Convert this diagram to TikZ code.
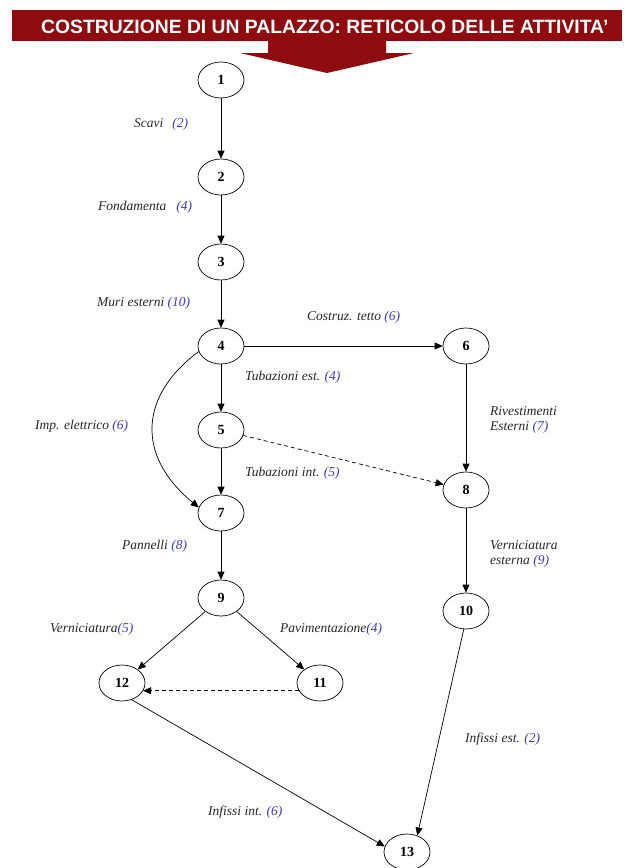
\documentclass[tikz,border=0pt]{standalone}
\usepackage{fontspec}
\setmainfont{Liberation Serif}
\newfontfamily\headfont{Liberation Sans}
\usetikzlibrary{arrows.meta, shapes.geometric}
\definecolor{headred}{HTML}{8E0B10}
\definecolor{durblue}{HTML}{3B3BB0}
\newcommand{\dur}[1]{\textcolor{durblue}{(#1)}}

\begin{document}
\begin{tikzpicture}[x=1pt, y=-1pt,
  ev/.style={draw, ellipse, line width=0.7pt, minimum width=46pt, minimum height=36pt,
    inner sep=0pt, font=\fontsize{14}{14}\selectfont\bfseries},
  act/.style={-{Triangle[length=8pt,width=7pt]}, line width=0.7pt},
  dummy/.style={act, dash pattern=on 4pt off 3pt},
  lbl/.style={anchor=west, inner sep=0pt, text=black!85, align=left,
    font=\fontsize{13.5}{15.5}\selectfont\itshape},
]
\useasboundingbox (0,0) rectangle (631,868);

% title banner and arrow
\fill[headred] (12,10) rectangle (622,41);
\fill[headred] (268,40) -- (386,40) -- (386,53) -- (414,53) -- (327,73)
  -- (240,53) -- (268,53) -- cycle;
\node[text=white, inner sep=0pt, anchor=base west,
  font=\headfont\bfseries\fontsize{19.3}{20}\selectfont] (title) at (41,33)
  {COSTRUZIONE DI UN PALAZZO: RETICOLO DELLE ATTIVITA’};

% events
\node[ev] (n1)  at (221,80)  {1};
\node[ev] (n2)  at (221,177) {2};
\node[ev] (n3)  at (221,262) {3};
\node[ev] (n4)  at (221,346) {4};
\node[ev] (n5)  at (221,430) {5};
\node[ev] (n6)  at (466,346) {6};
\node[ev] (n7)  at (221,513) {7};
\node[ev] (n8)  at (466,490) {8};
\node[ev] (n9)  at (221,598) {9};
\node[ev] (n10) at (466,611) {10};
\node[ev] (n11) at (320,683) {11};
\node[ev] (n12) at (122,683) {12};
\node[ev] (n13) at (407,852) {13};

% activities
\draw[act] (n1) -- (n2);
\draw[act] (n2) -- (n3);
\draw[act] (n3) -- (n4);
\draw[act] (n4) -- (n6);
\draw[act] (n4) -- (n5);
\draw[act] (n5) -- (n7);
\draw[act] (n4.194) .. controls (140,395) and (135,455) .. (n7.166);
\draw[dummy] (n5) -- (n8);
\draw[act] (n6) -- (n8);
\draw[act] (n8) -- (n10);
\draw[act] (n7) -- (n9);
\draw[act] (n9) -- (n12);
\draw[act] (n9) -- (n11);
\draw[dummy] (n11.200) -- (n12.-20);
\draw[act] (n12.-60) -- (n13.166);
\draw[act] (n10.-97) -- (n13.58);

% activity labels
\node[lbl] (l12)   at (134,124) {Scavi\hspace{9pt}\dur{2}};
\node[lbl] (l23)   at (98,207)  {Fondamenta\hspace{10pt}\dur{4}};
\node[lbl] (l34)   at (97,303)  {Muri esterni \dur{10}};
\node[lbl] (l46)   at (307,317) {Costruz. tetto \dur{6}};
\node[lbl] (l45)   at (245,377) {Tubazioni est. \dur{4}};
\node[lbl] (l47)   at (35,426)  {Imp. elettrico \dur{6}};
\node[lbl] (l58)   at (245,473) {Tubazioni int. \dur{5}};
\node[lbl] (l68)   at (490,420) {Rivestimenti\\Esterni \dur{7}};
\node[lbl] (l810)  at (490,554) {Verniciatura\\esterna \dur{9}};
\node[lbl] (l79)   at (122,546) {Pannelli \dur{8}};
\node[lbl] (l912)  at (50,629)  {Verniciatura\dur{5}};
\node[lbl] (l911)  at (280,629) {Pavimentazione\dur{4}};
\node[lbl] (l1013) at (465,739) {Infissi est. \dur{2}};
\node[lbl] (l1213) at (208,812) {Infissi int. \dur{6}};
\end{tikzpicture}
\end{document}
